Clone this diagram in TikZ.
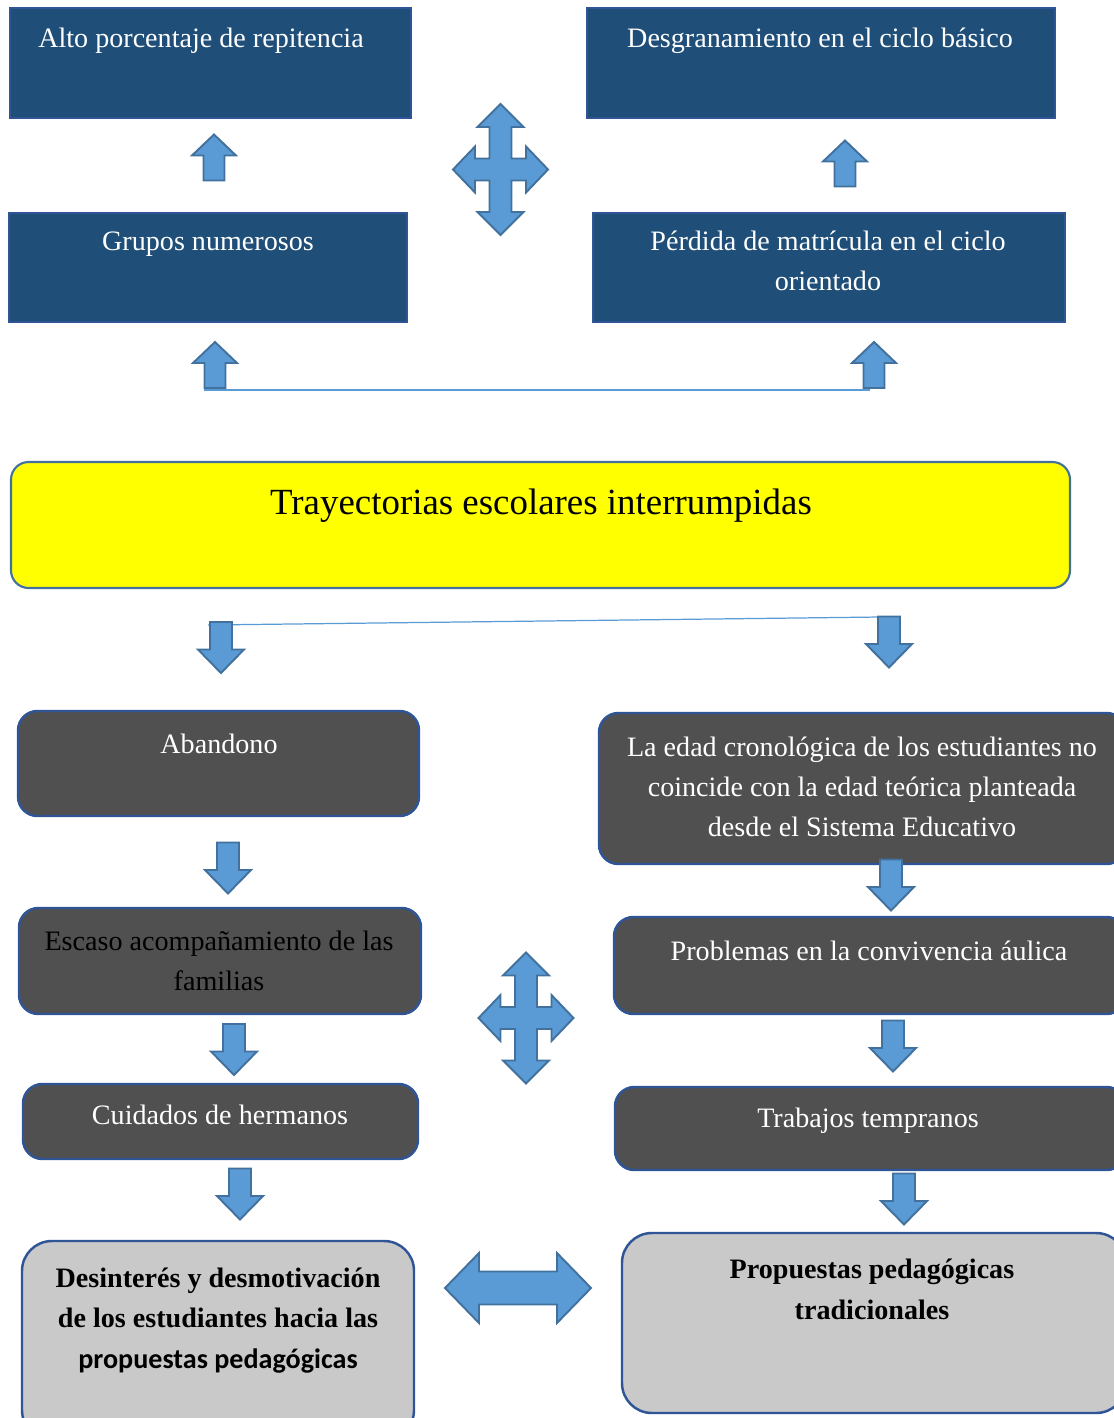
\documentclass[tikz,border=0pt]{standalone}
\usepackage{fontspec}
\setmainfont{Liberation Serif}
\newfontfamily\calibrifont{Carlito}
\usetikzlibrary{fit, calc}

\definecolor{boxblue}{HTML}{1F4E79}
\definecolor{edgeblue}{HTML}{2F5597}
\definecolor{boxgrey}{HTML}{505050}
\definecolor{boxlight}{HTML}{C9C9C9}
\definecolor{arrowfill}{HTML}{5B9BD5}
\definecolor{arrowedge}{HTML}{41719C}
\definecolor{titleyellow}{HTML}{FFFF00}

\tikzset{
	topbox/.style={draw=edgeblue, fill=boxblue, line width=1.2pt, inner sep=0pt},
	titlebox/.style={draw=arrowedge, fill=titleyellow, line width=1.2pt, rounded corners=10pt, inner sep=0pt},
	greybox/.style={draw=edgeblue, fill=boxgrey, line width=1.4pt, rounded corners=11pt, inner sep=0pt},
	lightbox/.style={draw=edgeblue, fill=boxlight, line width=1.4pt, rounded corners=17pt, inner sep=0pt},
	txt/.style={font=\fontsize{16}{22.7}\selectfont, align=center, inner sep=0pt, anchor=base},
	boldtxt/.style={txt, font=\fontsize{16}{23}\selectfont\bfseries},
	blockarrow/.style={draw=arrowedge, fill=arrowfill, line width=1.1pt, line join=miter},
	thinline/.style={draw=arrowfill, line width=0.7pt},
	uparrow/.pic={
		\path[blockarrow] (0,-23) -- (22,-2) -- (10.5,-2) -- (10.5,23) -- (-10.5,23)
			-- (-10.5,-2) -- (-22,-2) -- cycle;
	},
	downarrow/.pic={
		\path[blockarrow] (0,25.5) -- (23,2) -- (11,2) -- (11,-25.5) -- (-11,-25.5)
			-- (-11,2) -- (-23,2) -- cycle;
	},
	crossarrow/.pic={
		\path[blockarrow] (0,-65.5) -- (23,-42.5) -- (11,-42.5) -- (11,-11) -- (25.5,-11)
			-- (25.5,-23) -- (47.5,0) -- (25.5,23) -- (25.5,11) -- (11,11) -- (11,42.5)
			-- (23,42.5) -- (0,65.5) -- (-23,42.5) -- (-11,42.5) -- (-11,11) -- (-25.5,11)
			-- (-25.5,23) -- (-47.5,0) -- (-25.5,-23) -- (-25.5,-11) -- (-11,-11)
			-- (-11,-42.5) -- (-23,-42.5) -- cycle;
	},
	sidearrow/.pic={
		\path[blockarrow] (-73,0) -- (-39,-35) -- (-39,-16.5) -- (39,-16.5) -- (39,-35)
			-- (73,0) -- (39,35) -- (39,16.5) -- (-39,16.5) -- (-39,35) -- cycle;
	}
}

\begin{document}
\begin{tikzpicture}[x=0.02cm, y=-0.02cm]
	\useasboundingbox (0,0) rectangle (1114,1418);

	% upper part
	\node[topbox, fit={(10,8) (411,118)}] (repit) {};
	\node[topbox, fit={(587,8) (1055,118)}] (desgr) {};
	\node[topbox, fit={(9,213) (407,322)}] (grupos) {};
	\node[topbox, fit={(593,213) (1065,322)}] (perdida) {};

	\node[txt, text=white] (repit-t)   at (201,47)  {Alto porcentaje de repitencia};
	\node[txt, text=white] (desgr-t)   at (820,47)  {Desgranamiento en el ciclo básico};
	\node[txt, text=white] (grupos-t)  at (208,250) {Grupos numerosos};
	\node[txt, text=white] (perdida-t) at (828,290) {Pérdida de matrícula en el ciclo\\ orientado};

	\pic at (214,157.5) {uparrow};
	\pic at (845,163.5) {uparrow};
	\pic at (215,365) {uparrow};
	\pic at (874,365) {uparrow};
	\pic at (500.5,169.5) {crossarrow};

	\coordinate (upl) at (204,390);
	\coordinate (upr) at (870,390);
	\draw[thinline] (upl) -- (upr);

	% central problem
	\node[titlebox, fit={(11,462) (1070,588)}] (tray) {};
	\node[txt, font=\fontsize{21}{26}\selectfont] (tray-t) at (541,514)
		{Trayectorias escolares interrumpidas};

	\coordinate (dnl) at (208,625);
	\coordinate (dnr) at (880,617);
	\draw[thinline] (dnl) -- (dnr);
	\pic at (221,647.5) {downarrow};
	\pic at (889,642) {downarrow};

	% left column
	\node[greybox, fit={(18,711) (419,816)}] (aband) {};
	\node[greybox, fit={(19,908) (421,1014)}] (escaso) {};
	\node[greybox, fit={(23,1084) (418,1159)}] (cuidad) {};
	\node[lightbox, fit={(22,1241) (414,1440)}] (desint) {};

	\node[txt, text=white] (aband-t)  at (219,753)  {Abandono};
	\node[txt] (escaso-t) at (219,990) {Escaso acompañamiento de las\\ familias};
	\node[txt, text=white] (cuidad-t) at (220,1124) {Cuidados de hermanos};
	\node[boldtxt] (desint-t) at (218,1368)
		{Desinterés y desmotivación\\ de los estudiantes hacia las\\ {\calibrifont propuestas pedagógicas}};

	\pic at (228,868) {downarrow};
	\pic at (234,1049.5) {downarrow};
	\pic at (240,1194) {downarrow};

	% right column
	\node[greybox, fit={(599,713) (1126,864)}] (edad) {};
	\node[greybox, fit={(614,917) (1126,1014)}] (convi) {};
	\node[greybox, fit={(615,1087) (1126,1170)}] (trabaj) {};
	\node[lightbox, fit={(622,1233) (1126,1413)}] (propu) {};

	\node[txt, text=white] (edad-t) at (862,836)
		{La edad cronológica de los estudiantes no\\ coincide con la edad teórica planteada\\ desde el Sistema Educativo};
	\node[txt, text=white] (convi-t)  at (869,960)  {Problemas en la convivencia áulica};
	\node[txt, text=white] (trabaj-t) at (868,1127) {Trabajos tempranos};
	\node[boldtxt] (propu-t) at (872,1319)
		{Propuestas pedagógicas\\ tradicionales};

	\pic at (891,885) {downarrow};
	\pic at (893,1046) {downarrow};
	\pic at (904,1199) {downarrow};

	\pic at (526,1018) {crossarrow};
	\pic at (518,1288) {sidearrow};
\end{tikzpicture}
\end{document}
